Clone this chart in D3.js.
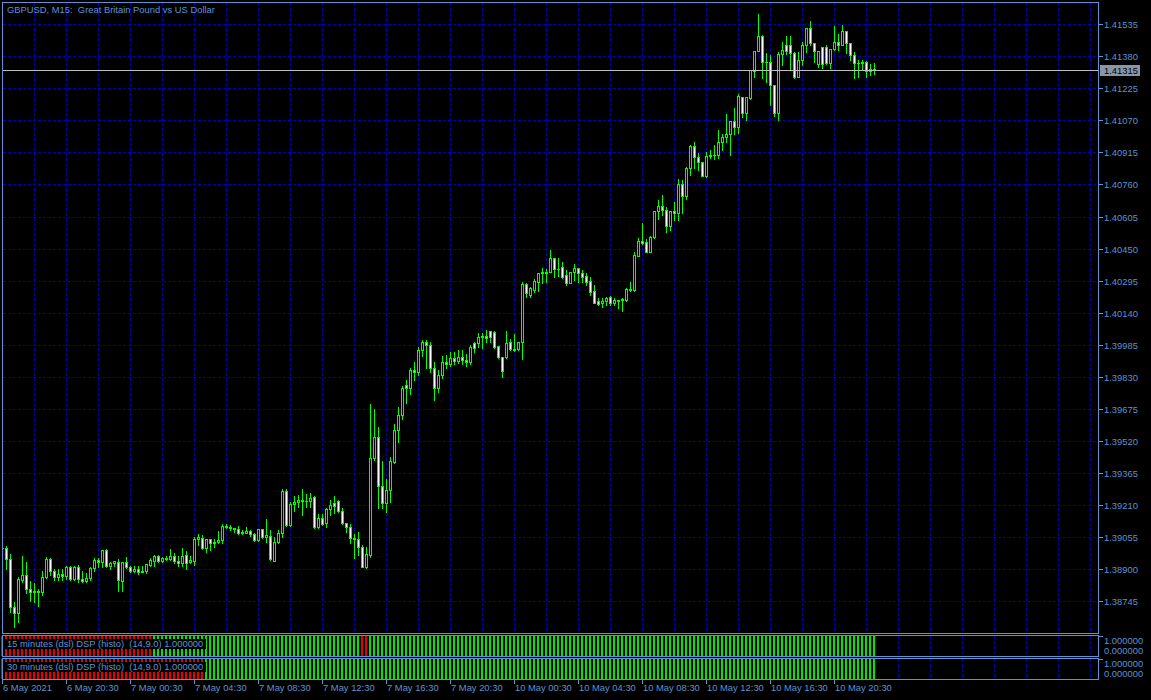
<!DOCTYPE html>
<html lang="en">
<head>
<meta charset="UTF-8">
<title>GBPUSD, M15</title>
<script src="https://cdn.jsdelivr.net/npm/d3@7"></script>
<style>
  body { margin:0; background:#000; }
  svg { display:block; }
  text { font-family:"Liberation Sans", Arial, sans-serif; font-size:9.4px; fill:#5b93d3; white-space:pre; }
</style>
</head>
<body>
<div id="chart"></div>
<script>
// GBPUSD M15, 6 May 16:30 .. 10 May 22:30, one entry per bar
var opens = [
1.39002,1.39002,1.38949,1.38716,1.38687,1.38847,1.38871,1.38803,1.38789,1.38794,1.38789,1.38861,1.38949,1.38890,1.38861,1.38876,1.38866,1.38910,1.38852,1.38910,
1.38852,1.38842,1.38856,1.38905,1.38944,1.38934,1.38992,1.38915,1.38929,1.38934,1.38842,1.38934,1.38910,1.38890,1.38900,1.38885,1.38890,1.38919,1.38939,1.38963,
1.38939,1.38953,1.38949,1.38963,1.38939,1.38929,1.38968,1.38934,1.38939,1.39045,1.39050,1.39002,1.39045,1.39026,1.39031,1.39040,1.39108,1.39103,1.39099,1.39094,
1.39079,1.39074,1.39084,1.39070,1.39040,1.39094,1.39055,1.39060,1.38939,1.39031,1.39074,1.39278,1.39113,1.39215,1.39225,1.39234,1.39229,1.39229,1.39249,1.39103,
1.39147,1.39123,1.39191,1.39220,1.39229,1.39181,1.39123,1.39103,1.39050,1.39045,1.39007,1.38910,1.38968,1.39438,1.39539,1.39302,1.39220,1.39283,1.39418,1.39573,
1.39646,1.39791,1.39777,1.39864,1.39854,1.39961,1.40000,1.39985,1.39874,1.39777,1.39840,1.39903,1.39893,1.39922,1.39908,1.39927,1.39912,1.39903,1.39995,1.39995,
1.40024,1.40029,1.40053,1.40048,1.39980,1.39927,1.39927,1.40000,1.39966,1.39966,1.40000,1.40280,1.40227,1.40251,1.40290,1.40334,1.40334,1.40339,1.40406,1.40353,
1.40363,1.40324,1.40285,1.40339,1.40358,1.40334,1.40319,1.40295,1.40247,1.40194,1.40189,1.40194,1.40218,1.40189,1.40203,1.40203,1.40203,1.40256,1.40251,1.40416,
1.40489,1.40484,1.40435,1.40508,1.40634,1.40658,1.40639,1.40557,1.40634,1.40620,1.40760,1.40702,1.40838,1.40944,1.40891,1.40867,1.40799,1.40900,1.40905,1.40905,
1.40968,1.40988,1.41002,1.41065,1.41036,1.41181,1.41104,1.41177,1.41307,1.41404,1.41477,1.41351,1.41351,1.41240,1.41104,1.41390,1.41433,1.41433,1.41395,1.41278,
1.41361,1.41433,1.41516,1.41443,1.41341,1.41424,1.41424,1.41346,1.41414,1.41448,1.41433,1.41501,1.41443,1.41385,1.41346,1.41346,1.41351,1.41307,1.41317];
var highs = [
1.39011,1.39011,1.38973,1.38740,1.38861,1.38963,1.38934,1.38842,1.38832,1.38803,1.38890,1.38958,1.38954,1.38900,1.38900,1.38900,1.38915,1.38915,1.38915,1.38919,
1.38890,1.38881,1.38910,1.38953,1.38953,1.38992,1.38997,1.38934,1.38939,1.38949,1.38934,1.38958,1.38915,1.38915,1.38915,1.38915,1.38924,1.38953,1.38968,1.38968,
1.38958,1.38963,1.38997,1.38978,1.38963,1.39002,1.38987,1.38963,1.39055,1.39070,1.39065,1.39045,1.39045,1.39045,1.39084,1.39118,1.39118,1.39113,1.39099,1.39108,
1.39089,1.39103,1.39089,1.39074,1.39094,1.39094,1.39142,1.39089,1.39055,1.39089,1.39288,1.39288,1.39225,1.39254,1.39259,1.39288,1.39263,1.39268,1.39254,1.39166,
1.39166,1.39195,1.39234,1.39254,1.39234,1.39195,1.39123,1.39118,1.39070,1.39079,1.39016,1.39007,1.39699,1.39675,1.39588,1.39423,1.39336,1.39443,1.39602,1.39685,
1.39786,1.39815,1.39874,1.39903,1.39975,1.40009,1.40009,1.40000,1.39903,1.39864,1.39932,1.39937,1.39951,1.39951,1.39961,1.39961,1.39941,1.39985,1.40000,1.40043,
1.40043,1.40058,1.40053,1.40053,1.39980,1.39927,1.40053,1.40014,1.40038,1.40000,1.40290,1.40285,1.40266,1.40305,1.40334,1.40358,1.40353,1.40445,1.40406,1.40406,
1.40387,1.40344,1.40339,1.40377,1.40358,1.40344,1.40334,1.40314,1.40276,1.40213,1.40213,1.40218,1.40222,1.40213,1.40203,1.40213,1.40261,1.40290,1.40431,1.40503,
1.40576,1.40494,1.40513,1.40634,1.40687,1.40707,1.40649,1.40634,1.40673,1.40789,1.40784,1.40847,1.40949,1.40964,1.40910,1.40871,1.40915,1.40925,1.40949,1.41022,
1.41002,1.41099,1.41065,1.41128,1.41196,1.41181,1.41181,1.41312,1.41404,1.41583,1.41482,1.41395,1.41385,1.41240,1.41399,1.41448,1.41477,1.41477,1.41399,1.41399,
1.41448,1.41516,1.41550,1.41443,1.41404,1.41424,1.41433,1.41414,1.41525,1.41487,1.41530,1.41501,1.41443,1.41399,1.41361,1.41361,1.41356,1.41341,1.41346];
var lows = [
1.38992,1.38900,1.38692,1.38619,1.38643,1.38837,1.38784,1.38745,1.38740,1.38721,1.38774,1.38856,1.38871,1.38847,1.38847,1.38847,1.38852,1.38847,1.38847,1.38837,
1.38837,1.38837,1.38847,1.38890,1.38910,1.38910,1.38910,1.38900,1.38915,1.38794,1.38794,1.38905,1.38885,1.38885,1.38876,1.38885,1.38881,1.38915,1.38915,1.38934,
1.38934,1.38944,1.38944,1.38929,1.38915,1.38915,1.38900,1.38929,1.38919,1.39016,1.38997,1.38982,1.38992,1.39007,1.39026,1.39026,1.39099,1.39089,1.39079,1.39070,
1.39070,1.39074,1.39060,1.39036,1.39036,1.39050,1.39031,1.38944,1.38939,1.39026,1.39055,1.39108,1.39108,1.39181,1.39200,1.39162,1.39200,1.39200,1.39099,1.39099,
1.39113,1.39103,1.39162,1.39171,1.39176,1.39118,1.39079,1.39026,1.38953,1.38968,1.38910,1.38905,1.38958,1.39428,1.39195,1.39195,1.39176,1.39225,1.39414,1.39515,
1.39627,1.39704,1.39748,1.39815,1.39840,1.39932,1.39874,1.39854,1.39719,1.39757,1.39825,1.39874,1.39883,1.39893,1.39898,1.39893,1.39883,1.39893,1.39951,1.39975,
1.39970,1.40000,1.40000,1.39970,1.39922,1.39830,1.39922,1.39961,1.39956,1.39961,1.39917,1.40218,1.40218,1.40242,1.40247,1.40285,1.40290,1.40339,1.40314,1.40319,
1.40310,1.40276,1.40285,1.40300,1.40290,1.40290,1.40276,1.40227,1.40189,1.40179,1.40169,1.40179,1.40179,1.40179,1.40164,1.40150,1.40198,1.40247,1.40247,1.40416,
1.40474,1.40431,1.40431,1.40503,1.40595,1.40610,1.40528,1.40542,1.40586,1.40586,1.40624,1.40692,1.40804,1.40842,1.40828,1.40799,1.40794,1.40886,1.40881,1.40886,
1.40925,1.40964,1.40905,1.41002,1.41007,1.41085,1.41070,1.41172,1.41278,1.41404,1.41274,1.41254,1.41143,1.41089,1.41070,1.41336,1.41390,1.41317,1.41274,1.41278,
1.41336,1.41399,1.41433,1.41351,1.41327,1.41322,1.41341,1.41322,1.41409,1.41409,1.41433,1.41395,1.41361,1.41274,1.41278,1.41317,1.41278,1.41288,1.41293];
var closes = [
1.39002,1.38949,1.38716,1.38687,1.38852,1.38871,1.38803,1.38789,1.38794,1.38789,1.38861,1.38949,1.38890,1.38861,1.38876,1.38866,1.38910,1.38852,1.38910,1.38852,
1.38842,1.38856,1.38905,1.38944,1.38934,1.38992,1.38915,1.38929,1.38939,1.38847,1.38934,1.38910,1.38890,1.38900,1.38885,1.38890,1.38924,1.38944,1.38963,1.38939,
1.38953,1.38949,1.38963,1.38939,1.38929,1.38963,1.38929,1.38944,1.39045,1.39055,1.39002,1.39045,1.39026,1.39031,1.39040,1.39108,1.39103,1.39099,1.39094,1.39074,
1.39074,1.39084,1.39070,1.39040,1.39094,1.39055,1.39065,1.38949,1.39031,1.39074,1.39278,1.39113,1.39215,1.39225,1.39234,1.39229,1.39229,1.39244,1.39103,1.39147,
1.39118,1.39191,1.39210,1.39205,1.39181,1.39123,1.39103,1.39050,1.39045,1.39007,1.38910,1.38973,1.39438,1.39539,1.39302,1.39220,1.39283,1.39423,1.39573,1.39646,
1.39777,1.39777,1.39864,1.39854,1.39961,1.40000,1.39985,1.39874,1.39777,1.39840,1.39903,1.39893,1.39922,1.39908,1.39927,1.39912,1.39903,1.39975,1.39970,1.40024,
1.40029,1.40019,1.40024,1.39975,1.39927,1.39859,1.39995,1.39966,1.39961,1.40000,1.40280,1.40237,1.40261,1.40295,1.40334,1.40339,1.40339,1.40406,1.40353,1.40353,
1.40314,1.40285,1.40339,1.40358,1.40334,1.40314,1.40290,1.40242,1.40189,1.40184,1.40194,1.40213,1.40189,1.40203,1.40198,1.40208,1.40256,1.40251,1.40421,1.40489,
1.40479,1.40431,1.40508,1.40634,1.40658,1.40639,1.40557,1.40634,1.40620,1.40760,1.40702,1.40838,1.40944,1.40891,1.40867,1.40799,1.40900,1.40905,1.40905,1.40968,
1.40988,1.41002,1.41065,1.41036,1.41186,1.41104,1.41181,1.41312,1.41404,1.41477,1.41351,1.41351,1.41240,1.41104,1.41390,1.41409,1.41404,1.41395,1.41278,1.41361,
1.41433,1.41516,1.41443,1.41404,1.41404,1.41341,1.41346,1.41414,1.41448,1.41433,1.41501,1.41443,1.41385,1.41346,1.41346,1.41351,1.41307,1.41317,1.41315];

// DSP histogram state per bar: 1 = up (green), 0 = down (red); value is always 1.0
var dsp15 = [
0,0,0,0,0,0,0,0,0,0,0,0,0,0,0,0,0,0,0,0,0,0,0,0,0,0,0,0,0,0,0,0,0,0,0,0,0,0,1,1,
1,1,1,1,1,1,1,1,1,1,1,1,1,1,1,1,1,1,1,1,1,1,1,1,1,1,1,1,1,1,1,1,1,1,1,1,1,1,1,1,
1,1,1,1,1,1,1,1,1,1,0,0,1,1,1,1,1,1,1,1,1,1,1,1,1,1,1,1,1,1,1,1,1,1,1,1,1,1,1,1,
1,1,1,1,1,1,1,1,1,1,1,1,1,1,1,1,1,1,1,1,1,1,1,1,1,1,1,1,1,1,1,1,1,1,1,1,1,1,1,1,
1,1,1,1,1,1,1,1,1,1,1,1,1,1,1,1,1,1,1,1,1,1,1,1,1,1,1,1,1,1,1,1,1,1,1,1,1,1,1,1,
1,1,1,1,1,1,1,1,1,1,1,1,1,1,1,1,1,1,1];
var dsp30 = [
0,0,0,0,0,0,0,0,0,0,0,0,0,0,0,0,0,0,0,0,0,0,0,0,0,0,0,0,0,0,0,0,0,0,0,0,0,0,0,0,
0,0,0,0,0,0,0,0,0,0,0,1,1,1,1,1,1,1,1,1,1,1,1,1,1,1,1,1,1,1,1,1,1,1,1,1,1,1,1,1,
1,1,1,1,1,1,1,1,1,1,1,1,1,1,1,1,1,1,1,1,1,1,1,1,1,1,1,1,1,1,1,1,1,1,1,1,1,1,1,1,
1,1,1,1,1,1,1,1,1,1,1,1,1,1,1,1,1,1,1,1,1,1,1,1,1,1,1,1,1,1,1,1,1,1,1,1,1,1,1,1,
1,1,1,1,1,1,1,1,1,1,1,1,1,1,1,1,1,1,1,1,1,1,1,1,1,1,1,1,1,1,1,1,1,1,1,1,1,1,1,1,
1,1,1,1,1,1,1,1,1,1,1,1,1,1,1,1,1,1,1];

var priceTicks = [1.38745,1.38900,1.39055,1.39210,1.39365,1.39520,1.39675,1.39830,1.39985,1.40140,
                  1.40295,1.40450,1.40605,1.40760,1.40915,1.41070,1.41225,1.41380,1.41535];
var timeLabels = ["6 May 2021","6 May 20:30","7 May 00:30","7 May 04:30","7 May 08:30","7 May 12:30","7 May 16:30",
                  "7 May 20:30","10 May 00:30","10 May 04:30","10 May 08:30","10 May 12:30","10 May 16:30","10 May 20:30"];
var lastPrice = 1.41315;
var title = "GBPUSD, M15:  Great Britain Pound vs US Dollar";
var panelNames = ["15 minutes (dsl) DSP (histo)  (14,9.0) 1.000000", "30 minutes (dsl) DSP (histo)  (14,9.0) 1.000000"];

var fg = "#5b93d3", gridCol = "#0000b4", candleCol = "#00ff00";
var W = 1151, H = 700;
var L = 3, R = 1098, T = 3, B = 633;

var svg = d3.select("#chart").append("svg").attr("width", W).attr("height", H)
  .style("background", "#000").attr("shape-rendering", "crispEdges");

// bar index -> pixel column, 4 px per bar
var x = d3.scaleLinear().domain([0, 8]).range([2, 34]);
var y = d3.scaleLinear().domain([1.38745, 1.41535]).range([601, 24.3]);

svg.append("defs").append("clipPath").attr("id", "mainClip")
  .append("rect").attr("x", L).attr("y", T).attr("width", R - L).attr("height", B - T);

// grid
var grid = svg.append("g");
var vIdx = d3.range(8, 273, 8);
var panels = [[T, B], [636, 656], [659, 679]];
panels.forEach(function(p) {
  grid.selectAll(null).data(vIdx).enter().append("line")
    .attr("x1", function(d){ return x(d) + 0.5; }).attr("x2", function(d){ return x(d) + 0.5; })
    .attr("y1", p[0]).attr("y2", p[1])
    .attr("stroke", gridCol).attr("stroke-dasharray", "3,2");
});
grid.selectAll(null).data(priceTicks).enter().append("line")
  .attr("x1", L).attr("x2", R)
  .attr("y1", function(d){ return Math.round(y(d)) + 0.5; }).attr("y2", function(d){ return Math.round(y(d)) + 0.5; })
  .attr("stroke", gridCol).attr("stroke-dasharray", "3,2");

// candles
var idx = d3.range(closes.length);
var cg = svg.append("g").attr("clip-path", "url(#mainClip)");
var bars = cg.selectAll("g.bar").data(idx).enter().append("g");
bars.append("rect")
  .attr("x", function(i){ return x(i); })
  .attr("y", function(i){ return Math.round(y(highs[i])); })
  .attr("width", 1)
  .attr("height", function(i){ return Math.round(y(lows[i])) - Math.round(y(highs[i])) + 1; })
  .attr("fill", candleCol);
bars.append("rect")
  .attr("x", function(i){ return x(i) - 1; })
  .attr("y", function(i){ return Math.round(y(Math.max(opens[i], closes[i]))); })
  .attr("width", 3)
  .attr("height", function(i){ return Math.round(y(Math.min(opens[i], closes[i]))) - Math.round(y(Math.max(opens[i], closes[i]))) + 1; })
  .attr("fill", candleCol);
bars.append("rect")
  .attr("x", function(i){ return x(i); })
  .attr("y", function(i){ return Math.round(y(Math.max(opens[i], closes[i]))) + 1; })
  .attr("width", 1)
  .attr("height", function(i){ return Math.max(0, Math.round(y(Math.min(opens[i], closes[i]))) - Math.round(y(Math.max(opens[i], closes[i]))) - 1); })
  .attr("fill", function(i){ return closes[i] >= opens[i] ? "#000" : "#fff"; });

// last price line
var yl = Math.round(y(lastPrice)) + 0.5;
svg.append("line").attr("x1", L).attr("x2", R).attr("y1", yl).attr("y2", yl).attr("stroke", "#c0c0c0");

// histogram panels
var hy = [d3.scaleLinear().domain([0, 1]).range([656, 636]), d3.scaleLinear().domain([0, 1]).range([679, 659])];
[dsp15, dsp30].forEach(function(s, k) {
  svg.append("g").selectAll("rect").data(idx).enter().append("rect")
    .attr("x", function(i){ return x(i) - 1; })
    .attr("y", hy[k](1)).attr("width", 2).attr("height", hy[k](0) - hy[k](1))
    .attr("fill", function(i){ return s[i] ? "#00e600" : "#e60000"; });
  var t = svg.append("text").attr("x", 7).attr("y", hy[k](1) + 11).text(panelNames[k]);
  var bb = t.node().getBBox();
  svg.insert("rect", function(){ return t.node(); })
    .attr("x", 5).attr("y", Math.round(bb.y) + 1).attr("width", Math.round(bb.width) + 5).attr("height", Math.round(bb.height) - 1)
    .attr("fill", "#000");
});

// frames
[[2.5, 2.5, 1096, 631], [2.5, 635.5, 1096, 21], [2.5, 658.5, 1096, 21]].forEach(function(r) {
  svg.append("rect").attr("x", r[0]).attr("y", r[1]).attr("width", r[2]).attr("height", r[3])
    .attr("fill", "none").attr("stroke", fg);
});

// price axis
var pa = svg.append("g");
pa.selectAll("line").data(priceTicks).enter().append("line")
  .attr("x1", R).attr("x2", R + 5)
  .attr("y1", function(d){ return Math.round(y(d)) + 0.5; }).attr("y2", function(d){ return Math.round(y(d)) + 0.5; })
  .attr("stroke", fg);
pa.selectAll("text").data(priceTicks).enter().append("text")
  .attr("x", 1104).attr("y", function(d){ return Math.round(y(d)) + 4; })
  .text(function(d){ return d3.format(".5f")(d); });

// last price tag
svg.append("rect").attr("x", 1100).attr("y", Math.round(y(lastPrice)) - 5).attr("width", 40).attr("height", 11).attr("fill", "#8797a8");
svg.append("text").attr("x", 1104).attr("y", Math.round(y(lastPrice)) + 4).style("fill", "#000").text(d3.format(".5f")(lastPrice));

// indicator panel scales
[636, 659].forEach(function(t0) {
  svg.append("line").attr("x1", R).attr("x2", R + 5).attr("y1", t0 + 0.5).attr("y2", t0 + 0.5).attr("stroke", fg);
  svg.append("text").attr("x", 1104).attr("y", t0 + 8).text("1.000000");
  svg.append("text").attr("x", 1104).attr("y", t0 + 18).text("0.000000");
});

// time axis
var ta = svg.append("g");
ta.selectAll("line").data(timeLabels).enter().append("line")
  .attr("x1", function(d, k){ return x(k * 16) + 0.5; }).attr("x2", function(d, k){ return x(k * 16) + 0.5; })
  .attr("y1", 680).attr("y2", 684).attr("stroke", fg);
ta.selectAll("text").data(timeLabels).enter().append("text")
  .attr("x", function(d, k){ return x(k * 16) + 1; }).attr("y", 691)
  .text(function(d){ return d; });

svg.append("text").attr("x", 7).attr("y", 13).text(title);
</script>
</body>
</html>
